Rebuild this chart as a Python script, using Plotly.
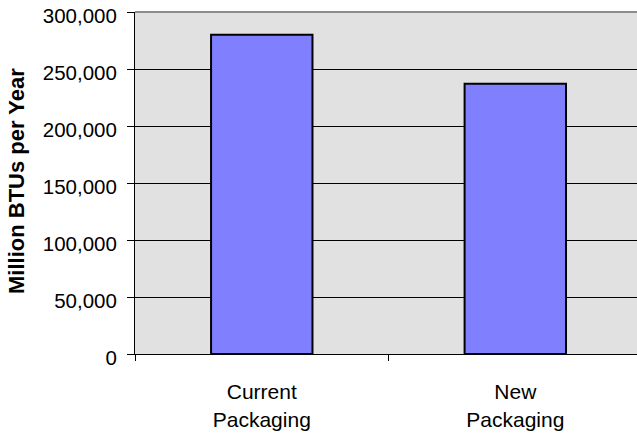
import plotly.graph_objects as go

categories = ["Current<br>Packaging", "New<br>Packaging"]
values = [280000, 237000]
y_ticks = [0, 50000, 100000, 150000, 200000, 250000, 300000]
y_tick_labels = ["0", "50,000", "100,000", "150,000", "200,000", "250,000", "300,000"]
y_title = "Million BTUs per Year"

fig = go.Figure(go.Bar(
    x=categories, y=values,
    marker=dict(color="#8080ff", line=dict(color="black", width=2)),
    width=0.4,
))

font = "Liberation Sans, Arial, sans-serif"
fig.update_layout(
    width=637, height=434,
    margin=dict(l=135, r=0, t=12, b=80),
    paper_bgcolor="white", plot_bgcolor="#e1e1e1",
    font=dict(family=font, size=21, color="black"),
    showlegend=False,
    xaxis=dict(
        type="category", range=[-0.5, 1.48],
        ticks="outside", tickson="boundaries", ticklen=6, tickcolor="black",
        showgrid=False, showline=True, linecolor="black", linewidth=1,
        tickfont=dict(size=21), ticklabelstandoff=19,
    ),
    yaxis=dict(
        range=[0, 300000], tickvals=y_ticks, ticktext=y_tick_labels,
        ticks="outside", ticklen=7, tickcolor="black",
        showgrid=True, gridcolor="black", gridwidth=1,
        showline=True, linecolor="black", linewidth=1,
        zeroline=False,
        tickfont=dict(size=20.5), ticklabelstandoff=6, ticklabelshift=4,
    ),
    shapes=[dict(type="line", xref="paper", yref="paper", x0=0, x1=1, y0=1, y1=1,
                 line=dict(color="#8c8c8c", width=2))],
    annotations=[dict(text="<b>" + y_title + "</b>", xref="paper", yref="paper",
                      x=0, y=0.5, xanchor="center", yanchor="middle",
                      xshift=-119, yshift=2, textangle=-90, showarrow=False,
                      font=dict(size=22, family=font, color="black"))],
)

fig.write_html("out.html")
